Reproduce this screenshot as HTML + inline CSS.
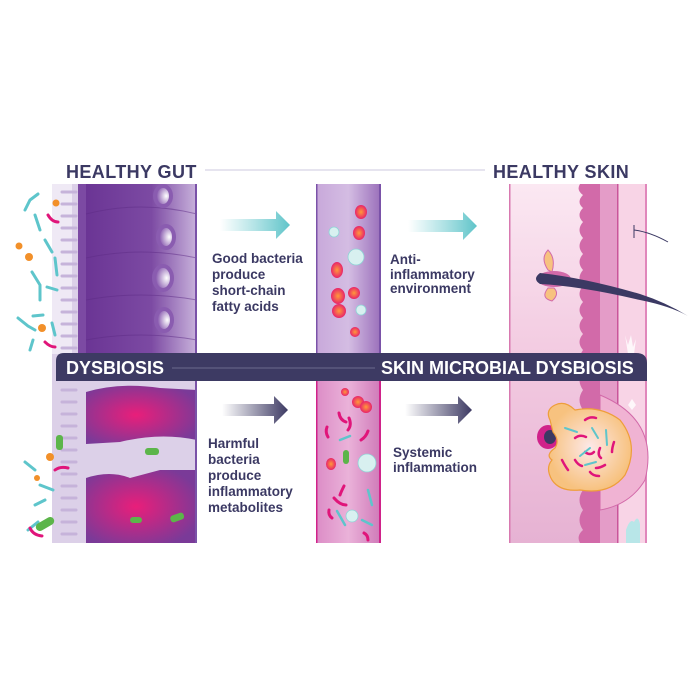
<!DOCTYPE html>
<html><head><meta charset="utf-8"><style>
html,body{margin:0;padding:0;background:#fff}
svg{display:block}
text{font-family:"Liberation Sans",sans-serif;font-weight:bold;fill:#3b3963}
</style></head><body>
<svg width="700" height="700" viewBox="0 0 700 700" xmlns="http://www.w3.org/2000/svg">
<defs>
<linearGradient id="gutTop" x1="0" x2="1"><stop offset="0" stop-color="#6a3494"/><stop offset="0.6" stop-color="#7c4aa3"/><stop offset="1" stop-color="#c9b3dc"/></linearGradient>
<radialGradient id="cellG" cx="0.7" cy="0.5" r="0.6"><stop offset="0" stop-color="#ffffff"/><stop offset="1" stop-color="#8a5cb0"/></radialGradient>
<radialGradient id="mag" cx="0.45" cy="0.5" r="0.6"><stop offset="0" stop-color="#e91e7a"/><stop offset="1" stop-color="#7a3a98"/></radialGradient>
<linearGradient id="vesTop" x1="0" x2="1"><stop offset="0" stop-color="#c8a8da"/><stop offset="0.5" stop-color="#d4bde3"/><stop offset="1" stop-color="#9a6fba"/></linearGradient>
<linearGradient id="vesBot" x1="0" x2="1"><stop offset="0" stop-color="#dc8cc6"/><stop offset="0.5" stop-color="#eab2d9"/><stop offset="1" stop-color="#cf79b8"/></linearGradient>
<linearGradient id="teal" x1="0" x2="1"><stop offset="0" stop-color="#6dcbd0" stop-opacity="0"/><stop offset="1" stop-color="#5fc4c9"/></linearGradient>
<linearGradient id="navy" x1="0" x2="1"><stop offset="0" stop-color="#3d3a63" stop-opacity="0"/><stop offset="1" stop-color="#3d3a63"/></linearGradient>
<linearGradient id="skinL" x1="0" x2="0" y1="0" y2="1"><stop offset="0" stop-color="#fbe8f2"/><stop offset="0.5" stop-color="#f2c9e0"/><stop offset="1" stop-color="#e6b2d3"/></linearGradient>
<radialGradient id="rbc" cx="0.5" cy="0.5" r="0.5"><stop offset="0" stop-color="#ff9a3a"/><stop offset="1" stop-color="#e8246a"/></radialGradient>
<radialGradient id="pim" cx="0.5" cy="0.5" r="0.5"><stop offset="0" stop-color="#fde8e8"/><stop offset="1" stop-color="#f7c27f"/></radialGradient>
</defs>

<text x="66" y="178" font-size="18" letter-spacing="0.4">HEALTHY GUT</text>
<line x1="205" y1="170" x2="485" y2="170" stroke="#e6e4ef" stroke-width="2"/>
<text x="493" y="178" font-size="18" letter-spacing="0.4">HEALTHY SKIN</text>

<rect x="52" y="184" width="145" height="359" fill="#dcd0e8"/>
<rect x="83" y="184" width="114" height="170" fill="url(#gutTop)"/>
<path d="M78 184 L86 184 L86 354 L78 354 Z" fill="#7c4aa3"/>
<path d="M52 184 h20 v170 h-20z" fill="#efe9f5"/>
<g stroke="#c6b3da" stroke-width="3" stroke-linecap="round">
<line x1="62" y1="192" x2="76" y2="192"/><line x1="62" y1="204" x2="76" y2="204"/><line x1="62" y1="216" x2="76" y2="216"/><line x1="62" y1="228" x2="76" y2="228"/><line x1="62" y1="240" x2="76" y2="240"/><line x1="62" y1="252" x2="76" y2="252"/><line x1="62" y1="264" x2="76" y2="264"/><line x1="62" y1="276" x2="76" y2="276"/><line x1="62" y1="288" x2="76" y2="288"/><line x1="62" y1="300" x2="76" y2="300"/><line x1="62" y1="312" x2="76" y2="312"/><line x1="62" y1="324" x2="76" y2="324"/><line x1="62" y1="336" x2="76" y2="336"/><line x1="62" y1="348" x2="76" y2="348"/>
<line x1="62" y1="390" x2="76" y2="390"/><line x1="62" y1="402" x2="76" y2="402"/><line x1="62" y1="414" x2="76" y2="414"/><line x1="62" y1="426" x2="76" y2="426"/><line x1="62" y1="438" x2="76" y2="438"/><line x1="62" y1="450" x2="76" y2="450"/><line x1="62" y1="462" x2="76" y2="462"/><line x1="62" y1="474" x2="76" y2="474"/><line x1="62" y1="486" x2="76" y2="486"/><line x1="62" y1="498" x2="76" y2="498"/><line x1="62" y1="510" x2="76" y2="510"/><line x1="62" y1="522" x2="76" y2="522"/><line x1="62" y1="534" x2="76" y2="534"/>
</g>
<g fill="none" stroke="#5e2c86" stroke-width="1" opacity="0.5">
<path d="M86 214 Q140 200 197 214"/><path d="M86 258 Q140 246 197 258"/><path d="M86 300 Q140 290 197 300"/><path d="M86 340 Q140 330 197 340"/>
</g>
<g stroke="#8a5cb0" stroke-width="4" fill="url(#cellG)">
<ellipse cx="163" cy="196" rx="8" ry="10"/><ellipse cx="166" cy="237" rx="8" ry="11"/><ellipse cx="163" cy="278" rx="9" ry="12"/><ellipse cx="164" cy="320" rx="8" ry="11"/>
</g>
<path d="M86 392 Q120 382 160 388 L197 390 L197 440 Q160 432 120 442 L86 444 Z" fill="url(#mag)"/>
<path d="M86 478 Q110 470 130 478 L160 470 L197 470 L197 543 L86 543 Z" fill="url(#mag)"/>
<rect x="195" y="184" width="2" height="359" fill="#7a52a8"/>
<g stroke="#5ec5cb" stroke-width="3" fill="none" stroke-linecap="round">
<path d="M25 210 L30 200 L38 194"/><path d="M35 215 L40 230"/><path d="M45 240 L52 252"/><path d="M55 258 L57 275"/><path d="M32 272 L40 285 L40 300"/><path d="M47 287 L57 290"/><path d="M18 318 L28 326 L35 330"/><path d="M33 316 L43 315"/><path d="M52 323 L55 335"/><path d="M33 340 L30 350"/>
<path d="M25 462 L35 470"/><path d="M40 485 L53 490"/><path d="M35 505 L45 500"/><path d="M28 530 L38 522"/>
</g>
<g fill="#f2902a"><circle cx="56" cy="203" r="3.5"/><circle cx="19" cy="246" r="3.5"/><circle cx="29" cy="257" r="4"/><circle cx="42" cy="328" r="4"/><circle cx="50" cy="457" r="4"/><circle cx="37" cy="478" r="3"/><circle cx="337" cy="403" r="3"/><circle cx="358" cy="481" r="3"/></g>
<g stroke="#e0157a" stroke-width="3" fill="none" stroke-linecap="round">
<path d="M48 215 Q52 222 58 222"/><path d="M45 342 Q50 347 55 347"/><path d="M55 470 Q60 466 68 468"/><path d="M30 528 Q33 535 42 536"/>
</g>
<g fill="#5cb54a"><rect x="56" y="435" width="7" height="15" rx="3"/><rect x="35" y="520" width="20" height="8" rx="4" transform="rotate(-30 45 524)"/><rect x="145" y="448" width="14" height="7" rx="3"/><rect x="170" y="514" width="14" height="7" rx="3" transform="rotate(-20 177 517)"/><rect x="130" y="517" width="12" height="6" rx="3"/></g>

<path d="M220 219 L276 219 L276 211 L290 225 L276 239 L276 231 L220 231 Z" fill="url(#teal)"/>
<path d="M408 220 L463 220 L463 212 L477 226 L463 240 L463 232 L408 232 Z" fill="url(#teal)"/>
<path d="M222 404 L274 404 L274 396 L288 410 L274 424 L274 416 L222 416 Z" fill="url(#navy)"/>
<path d="M405 404 L458 404 L458 396 L472 410 L458 424 L458 416 L405 416 Z" fill="url(#navy)"/>

<g font-size="13.5"><text x="212" y="263">Good bacteria</text><text x="212" y="279">produce</text><text x="212" y="295">short-chain</text><text x="212" y="311">fatty acids</text></g>
<g font-size="13.5"><text x="390" y="264">Anti-</text><text x="390" y="279">inflammatory</text><text x="390" y="293">environment</text></g>
<g font-size="13.5"><text x="208" y="448">Harmful</text><text x="208" y="464">bacteria</text><text x="208" y="480">produce</text><text x="208" y="496">inflammatory</text><text x="208" y="512">metabolites</text></g>
<g font-size="13.5"><text x="393" y="457">Systemic</text><text x="393" y="472">inflammation</text></g>

<rect x="316" y="184" width="65" height="170" fill="url(#vesTop)"/>
<rect x="316" y="380" width="65" height="163" fill="url(#vesBot)"/>
<rect x="316" y="184" width="1.5" height="170" fill="#7a52a8"/><rect x="379" y="184" width="2" height="170" fill="#7a52a8"/>
<rect x="316" y="380" width="1.5" height="163" fill="#d0228a"/><rect x="379" y="380" width="2" height="163" fill="#d0228a"/>
<g fill="url(#rbc)">
<ellipse cx="361" cy="212" rx="6" ry="7"/><ellipse cx="359" cy="233" rx="6" ry="7"/><ellipse cx="337" cy="270" rx="6" ry="8"/><ellipse cx="338" cy="296" rx="7" ry="8"/><ellipse cx="354" cy="293" rx="6" ry="6"/><ellipse cx="339" cy="311" rx="7" ry="7"/><ellipse cx="355" cy="332" rx="5" ry="5"/>
<ellipse cx="345" cy="392" rx="4" ry="4"/><ellipse cx="358" cy="402" rx="6" ry="6"/><ellipse cx="366" cy="407" rx="6" ry="6"/><ellipse cx="331" cy="464" rx="5" ry="6"/>
</g>
<g fill="#d8f0f0" stroke="#8fd3d6" stroke-width="0.8">
<circle cx="334" cy="232" r="5"/><circle cx="356" cy="257" r="8"/><circle cx="361" cy="310" r="5"/><circle cx="367" cy="463" r="9"/><circle cx="352" cy="516" r="6"/>
</g>
<g stroke="#e0157a" stroke-width="3" fill="none" stroke-linecap="round">
<path d="M339 413 Q340 420 346 422"/><path d="M349 418 Q352 425 348 430"/><path d="M327 427 Q325 432 328 437"/><path d="M368 431 Q366 437 361 440"/><path d="M344 486 Q341 492 340 495"/><path d="M334 498 Q340 505 346 505"/><path d="M329 510 Q328 515 332 518"/><path d="M364 533 Q368 535 368 540"/>
</g>
<g stroke="#5ec5cb" stroke-width="2.5" stroke-linecap="round"><line x1="340" y1="440" x2="350" y2="436"/><line x1="368" y1="490" x2="372" y2="505"/><line x1="337" y1="511" x2="345" y2="525"/><line x1="362" y1="520" x2="372" y2="525"/></g>
<rect x="343" y="450" width="6" height="14" rx="3" fill="#5cb54a"/>

<rect x="509" y="184" width="138" height="359" fill="url(#skinL)"/>
<rect x="509" y="184" width="1.5" height="359" fill="#d879b0"/>
<path d="M600 184 L580 184 Q576 190 583 195 Q576 202 583 208 Q576 215 583 222 Q576 230 583 238 Q576 246 583 254 Q576 262 583 270 Q576 278 583 286 Q576 294 583 302 Q576 310 583 318 Q576 326 583 334 Q576 342 583 350 Q576 360 583 370 Q576 380 583 390 Q576 400 583 410 Q576 420 583 430 Q576 440 583 450 Q576 460 583 470 Q576 480 583 490 Q576 500 583 510 Q576 520 583 530 Q576 536 580 543 L600 543 Z" fill="#d26aa9"/>
<rect x="600" y="184" width="18" height="359" fill="#e49cc8"/>
<rect x="618" y="184" width="29" height="359" fill="#f8d4e6"/>
<rect x="617" y="184" width="1.5" height="359" fill="#c9559a"/>
<rect x="645" y="184" width="2" height="359" fill="#e087bb"/>
<ellipse cx="554" cy="279" rx="17" ry="8" fill="#d26aa9"/>
<path d="M540 273 Q532 279 540 284 Q580 286 640 300 Q670 306 688 316 Q665 302 640 294 Q585 278 540 273Z" fill="#3b3963"/>
<path d="M548 270 Q540 258 548 250 Q556 258 552 272Z" fill="#f7c27f" stroke="#d26aa9"/>
<path d="M548 288 Q540 298 552 301 Q560 294 554 288Z" fill="#f7c27f" stroke="#d26aa9"/>
<path d="M634 230 Q650 232 668 242" fill="none" stroke="#3b3963" stroke-width="1"/>
<line x1="634" y1="225" x2="634" y2="238" stroke="#3b3963" stroke-width="1"/>
<path d="M600 395 Q660 420 645 480 Q630 505 600 510 Z" fill="#f0b3d3" stroke="#d26aa9" stroke-width="1"/>
<ellipse cx="548" cy="437" rx="11" ry="12" fill="#d0228a"/>
<ellipse cx="550" cy="437" rx="6" ry="7" fill="#3b3963"/>
<path d="M550 420 Q545 410 555 405 Q565 400 575 410 Q600 405 620 420 Q640 445 625 475 Q610 495 580 490 Q560 492 552 480 Q545 468 552 460 Q545 455 555 448 Q560 440 553 432 Z" fill="url(#pim)" stroke="#ee9e3a" stroke-width="1.2"/>
<g stroke="#e0157a" stroke-width="2.5" fill="none" stroke-linecap="round">
<path d="M585 420 Q590 416 596 418"/><path d="M575 438 Q580 434 586 437"/><path d="M600 448 Q597 455 601 458"/><path d="M585 452 Q590 456 594 452"/><path d="M575 460 Q578 465 582 466"/><path d="M605 465 Q600 468 596 468"/><path d="M590 472 Q593 476 599 476"/><path d="M614 442 Q612 448 612 452"/><path d="M562 460 Q565 466 568 470"/>
</g>
<g stroke="#5ec5cb" stroke-width="2" stroke-linecap="round"><line x1="565" y1="428" x2="577" y2="432"/><line x1="592" y1="428" x2="598" y2="438"/><line x1="606" y1="430" x2="607" y2="445"/><line x1="580" y1="456" x2="590" y2="448"/><line x1="585" y1="465" x2="596" y2="462"/></g>
<g fill="#ffffff" opacity="0.8"><path d="M625 335 l3 10 l3 -10 l2 12 l3 -8 l-2 15 l-6 0z"/><path d="M628 405 l4 -6 l4 6 l-4 5z"/></g>
<path d="M626 530 q4 -12 8 -8 q4 -8 6 2 l0 19 l-14 0z" fill="#b8e6e8"/>

<path d="M64 353 L636 353 Q647 353 647 363 L647 381 L56 381 L56 361 Q56 353 64 353Z" fill="#3d3a63"/>
<line x1="172" y1="368" x2="375" y2="368" stroke="#6c6a8c" stroke-width="1"/>
<text x="66" y="374" font-size="18" style="fill:#fff">DYSBIOSIS</text>
<text x="381" y="374" font-size="18" style="fill:#fff">SKIN MICROBIAL DYSBIOSIS</text>
</svg>
</body></html>
